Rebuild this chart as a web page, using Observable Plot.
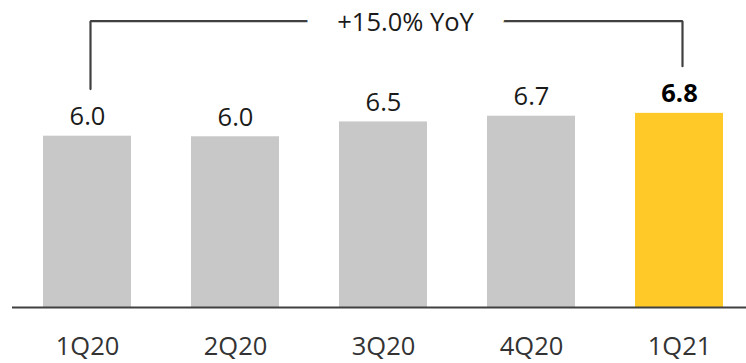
<!DOCTYPE html>
<html>
<head>
<meta charset="utf-8">
<script src="https://cdn.jsdelivr.net/npm/d3@7"></script>
<script src="https://cdn.jsdelivr.net/npm/@observablehq/plot@0.6"></script>
<style>
  html, body { margin: 0; padding: 0; background: #ffffff; }
  #chart { width: 746px; height: 363px; }
</style>
</head>
<body>
<div id="chart"></div>
<script>
// Data
const quarters = ["1Q20", "2Q20", "3Q20", "4Q20", "1Q21"];
const values = [6.0, 5.98, 6.5, 6.7, 6.8];
const valueLabels = ["6.0", "6.0", "6.5", "6.7", "6.8"];
const highlightQuarter = "1Q21";
const yoyLabel = "+15.0% YoY";
const yoyFrom = "1Q20";
const yoyTo = "1Q21";

const rows = quarters.map((q, i) => ({quarter: q, value: values[i], label: valueLabels[i]}));
const isHi = d => d.quarter === highlightQuarter;

const GRAY = "#c8c8c8";
const YELLOW = "#ffca28";
const TEXT = "#1a1a1a";
const LINE = "#404040";
const FS = 25.5;

// bracket geometry derived from data (in value units)
const vFrom = values[quarters.indexOf(yoyFrom)];
const vTo = values[quarters.indexOf(yoyTo)];
const vMax = d3.max(values);
const bracketTop = vMax + 3.23;
const bracketGap = 1.65;
const bracket = [
  {quarter: yoyFrom, y: vFrom + bracketGap},
  {quarter: yoyFrom, y: bracketTop},
  {quarter: yoyTo, y: bracketTop},
  {quarter: yoyTo, y: vTo + bracketGap}
];

const chart = Plot.plot({
  width: 746,
  height: 363,
  marginTop: 0,
  marginBottom: 56,
  marginLeft: 12,
  marginRight: 0,
  style: {fontFamily: "'Open Sans', sans-serif", fontSize: FS + "px", color: TEXT, background: "#ffffff"},
  x: {domain: quarters, range: [12, 754], paddingInner: 0.407, paddingOuter: 0.2, axis: null},
  y: {domain: [0, 307 / 28.55], axis: null},
  marks: [
    Plot.barY(rows, {x: "quarter", y: "value", fill: d => isHi(d) ? YELLOW : GRAY}),
    Plot.ruleY([0], {stroke: LINE, strokeWidth: 2}),
    Plot.text(rows.filter(d => !isHi(d)), {
      x: "quarter", y: "value", text: "label", dy: -11, lineAnchor: "bottom",
      fill: TEXT, fontSize: FS
    }),
    Plot.text(rows.filter(isHi), {
      x: "quarter", y: "value", text: "label", dy: -11, lineAnchor: "bottom",
      fill: "#000000", fontSize: FS, fontWeight: "bold"
    }),
    Plot.text(rows, {
      x: "quarter", text: "quarter", frameAnchor: "bottom", lineAnchor: "bottom", dy: 47.5,
      fill: "#333333", fontSize: FS
    }),
    Plot.line(bracket, {x: "quarter", y: "y", stroke: LINE, strokeWidth: 2.2, dx: 3, strokeLinejoin: "miter", curve: "linear"}),
    Plot.text([yoyLabel], {
      x: () => quarters[2], y: () => bracketTop, text: d => d, dx: 22, dy: 9.5, lineAnchor: "bottom",
      fill: TEXT, fontSize: FS, stroke: "#ffffff", strokeWidth: 62, strokeLinejoin: "round", paintOrder: "stroke"
    })
  ]
});
document.getElementById("chart").appendChild(chart);
</script>
</body>
</html>
